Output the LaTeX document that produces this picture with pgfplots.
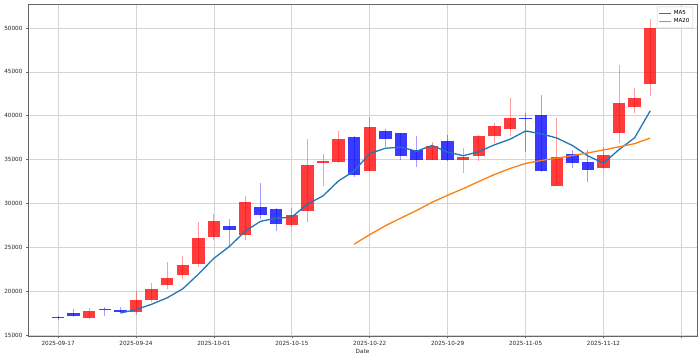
\documentclass[border=0pt]{standalone}
\usepackage{pgfplots}
\usepackage{pgfplotstable}
\pgfplotsset{compat=1.18}
\usepackage{fontspec}
\setmainfont{DejaVu Sans}
\definecolor{mplblue}{HTML}{1F77B4}
\definecolor{mplorange}{HTML}{FF7F0E}
\definecolor{candleup}{HTML}{FF0000}
\definecolor{candledown}{HTML}{0000FF}

% up (red) candles: index open high low close
\pgfplotstableread{
i o h l c
2 17000 18150 16850 17800
5 17700 20000 17300 19000
6 19000 21000 18800 20250
7 20700 23300 20300 21500
8 21900 24050 21400 23000
9 23100 27950 22800 26050
10 26200 28800 25900 28050
12 26400 30850 25800 30150
15 27550 29450 27300 28750
16 29150 37300 27900 34400
17 34650 35650 31950 34800
18 34750 38300 34650 37300
20 33700 39900 33700 38700
24 34950 37050 34950 36600
26 34950 36300 33500 35300
27 35400 37800 34850 37750
28 37700 39200 36950 38850
29 38550 42000 37750 39800
32 31950 39750 31950 35350
35 34000 36500 33950 35550
36 38000 45800 36850 41450
37 40950 43150 40350 42050
38 43600 51000 42200 49950
}\upcandles

% down (blue) candles
\pgfplotstableread{
i o h l c
0 17100 17200 16700 17000
1 17550 17950 17050 17250
3 17950 18200 17250 17900
4 17900 18200 17550 17700
11 27400 28250 25200 27000
13 29650 32300 28200 28700
14 29350 29500 26900 27700
19 37600 37700 33000 33300
21 38250 38500 36400 37400
22 38050 38050 35000 35450
23 36100 37700 34150 34950
25 37150 37800 34800 34950
30 39800 40300 35850 39650
31 40100 42400 33550 33700
33 35600 36150 34000 34600
34 34750 36150 32500 33850
}\downcandles

\pgfplotstableread{
i ma
4 17530
5 17930
6 18530
7 19270
8 20290
9 21960
10 23770
11 25120
12 26850
13 27990
14 28320
15 28460
16 29940
17 30870
18 32590
19 33710
20 35700
21 36300
22 36430
23 35960
24 36620
25 35870
26 35450
27 35910
28 36690
29 37330
30 38270
31 37950
32 37470
33 36620
34 35430
35 34610
36 36160
37 37500
38 40570
}\mafive

\pgfplotstableread{
i ma
19 25380
20 26465
21 27472
22 28355
23 29208
24 30152
25 30950
26 31702
27 32515
28 33308
29 33995
30 34575
31 34910
32 35170
33 35465
34 35772
35 36112
36 36465
37 36828
38 37460
}\matwenty

\begin{document}
\begin{tikzpicture}
\useasboundingbox (-28pt,-23pt) rectangle (672pt,336pt);
\begin{axis}[
  at={(0pt,0pt)}, anchor=south west,
  scale only axis, width=669pt, height=332pt,
  xmin=-1.93, xmax=41.0, ymin=14920, ymax=52730,
  xtick={0,5,...,40},
  xticklabels={2025-09-17,2025-09-24,2025-10-01,2025-10-15,2025-10-22,2025-10-29,2025-11-05,2025-11-12,{}},
  ytick={15000,20000,...,50000},
  scaled y ticks=false,
  /pgf/number format/1000 sep={},
  /pgf/number format/assume math mode=true,
  tick label style={font=\fontsize{5.7}{6.8}\selectfont, text=black!85},
  xlabel={Date},
  xlabel style={font=\fontsize{5.7}{6.8}\selectfont, text=black!85, yshift=3pt},
  grid=major,
  major grid style={black!17, line width=0.7pt},
  axis line style={black!60, line width=0.8pt},
  tick align=outside, major tick length=2pt,
  tick style={black!60, line width=0.6pt},
  xtick pos=bottom, ytick pos=left,
  legend style={at={(rel axis cs:0.994,0.992)}, anchor=north east,
    font=\fontsize{5.5}{6.5}\selectfont, draw=black!20, rounded corners=1pt,
    inner sep=1.5pt, row sep=-1pt, fill=white, fill opacity=0.8, text opacity=1},
  legend cell align=left,
]
% wicks
\addplot[draw=none, mark=none, forget plot,
  error bars/.cd, y dir=both, y explicit, error mark=none,
  error bar style={draw=candleup, line width=0.9pt, opacity=0.38}]
  table[x=i, y=l, y error plus expr=\thisrow{h}-\thisrow{l}, y error minus expr=0] {\upcandles};
\addplot[draw=none, mark=none, forget plot,
  error bars/.cd, y dir=both, y explicit, error mark=none,
  error bar style={draw=candledown, line width=0.9pt, opacity=0.38}]
  table[x=i, y=l, y error plus expr=\thisrow{h}-\thisrow{l}, y error minus expr=0] {\downcandles};
% bodies
\addplot[draw=none, mark=none, forget plot,
  error bars/.cd, y dir=both, y explicit, error mark=none,
  error bar style={draw=candleup, line width=12.4pt, opacity=0.77}]
  table[x=i, y=o, y error plus expr=\thisrow{c}-\thisrow{o}, y error minus expr=0] {\upcandles};
\addplot[draw=none, mark=none, forget plot,
  error bars/.cd, y dir=both, y explicit, error mark=none,
  error bar style={draw=candledown, line width=12.4pt, opacity=0.77}]
  table[x=i, y=c, y error plus expr=\thisrow{o}-\thisrow{c}, y error minus expr=0] {\downcandles};
% moving averages
\addplot[mplblue, line width=1.3pt, mark=none,
  legend image code/.code={\draw[mplblue, line width=1.2pt] (0pt,0pt) -- (12pt,0pt);}]
  table[x=i, y=ma] {\mafive};
\addlegendentry{MA5}
\addplot[mplorange, line width=1.3pt, mark=none,
  legend image code/.code={\draw[mplorange, line width=1.2pt] (0pt,0pt) -- (12pt,0pt);}]
  table[x=i, y=ma] {\matwenty};
\addlegendentry{MA20}
\end{axis}
\end{tikzpicture}
\end{document}
